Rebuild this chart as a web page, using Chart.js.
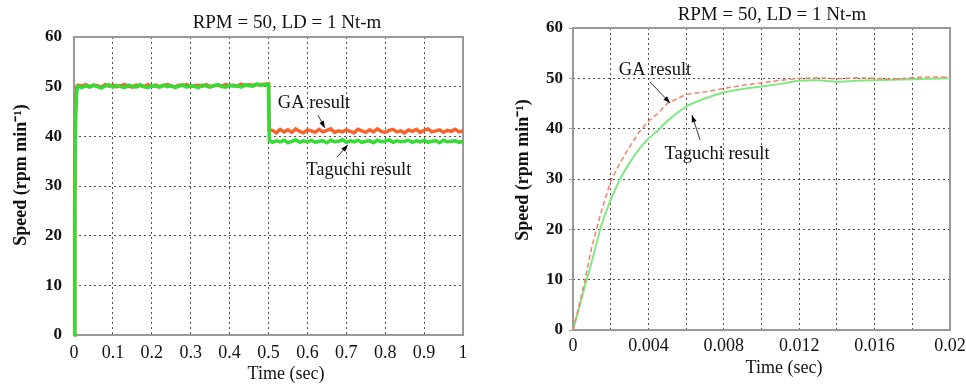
<!DOCTYPE html>
<html>
<head>
<meta charset="utf-8">
<script src="https://cdn.jsdelivr.net/npm/chart.js@4.4.1/dist/chart.umd.min.js"></script>
<style>
  html, body { margin: 0; padding: 0; background: #fff; }
  .panel { position: absolute; top: 0; }
</style>
</head>
<body>
<div class="panel" style="left:0;width:490px;height:385px"><canvas id="loadStep" width="490" height="385"></canvas></div>
<div class="panel" style="left:490px;width:476px;height:385px"><canvas id="startUp" width="476" height="385"></canvas></div>
<script>
// ---- Load-step response, 0 .. 1 s ----
const loadTime = [
  0, 0.002, 0.004, 0.007, 0.01,
  0.02, 0.03, 0.04, 0.05, 0.06, 0.07, 0.08, 0.09, 0.10, 0.11,
  0.12, 0.13, 0.14, 0.15, 0.16, 0.17, 0.18, 0.19, 0.20, 0.21,
  0.22, 0.23, 0.24, 0.25, 0.26, 0.27, 0.28, 0.29, 0.30, 0.31,
  0.32, 0.33, 0.34, 0.35, 0.36, 0.37, 0.38, 0.39, 0.40, 0.41,
  0.42, 0.43, 0.44, 0.45, 0.46, 0.47, 0.48, 0.49,
  0.50, 0.502,
  0.51, 0.52, 0.53, 0.54, 0.55, 0.56, 0.57, 0.58, 0.59, 0.60,
  0.61, 0.62, 0.63, 0.64, 0.65, 0.66, 0.67, 0.68, 0.69, 0.70,
  0.71, 0.72, 0.73, 0.74, 0.75, 0.76, 0.77, 0.78, 0.79, 0.80,
  0.81, 0.82, 0.83, 0.84, 0.85, 0.86, 0.87, 0.88, 0.89, 0.90,
  0.91, 0.92, 0.93, 0.94, 0.95, 0.96, 0.97, 0.98, 0.99, 1.00
];
const loadGA = [
  0, 27, 46, 50, 50.3,
  50.1, 50.4, 50.0, 50.3, 50.2, 49.9, 50.4, 50.1, 50.3, 50.0,
  50.2, 50.4, 50.1, 49.9, 50.3, 50.2, 50.0, 50.4, 50.1, 50.3,
  50.0, 50.2, 50.4, 50.1, 49.9, 50.3, 50.2, 50.4, 50.0, 50.2,
  50.3, 50.1, 50.4, 50.0, 50.2, 50.3, 50.1, 50.4, 50.2, 50.3,
  50.1, 50.5, 50.2, 50.4, 50.3, 50.5, 50.4, 50.5,
  50.6, 41.3,
  41.2, 40.7, 41.4, 40.9, 41.3, 40.8, 41.5, 41.0, 40.7, 41.3,
  41.1, 40.8, 41.4, 40.9, 41.2, 41.5, 40.8, 41.1, 40.9, 41.3,
  41.0, 40.7, 41.4, 41.1, 40.8, 41.3, 40.9, 41.5, 41.0, 40.8,
  41.2, 41.4, 40.9, 41.1, 40.7, 41.3, 41.0, 41.4, 40.8, 41.2,
  41.5, 40.9, 41.1, 41.3, 40.8, 41.2, 41.0, 41.4, 40.9, 41.1
];
const loadTaguchi = [
  0, 25, 44, 49.2, 50.1,
  49.8, 50.2, 49.9, 50.3, 50.0, 49.7, 50.1, 50.4, 49.9, 50.2,
  50.0, 49.8, 50.3, 50.1, 49.9, 50.4, 50.0, 49.8, 50.2, 50.1,
  49.9, 50.3, 50.0, 50.2, 49.8, 50.1, 50.4, 49.9, 50.2, 50.0,
  49.8, 50.3, 50.1, 49.9, 50.2, 50.4, 50.0, 49.9, 50.3, 50.1,
  50.2, 49.9, 50.4, 50.2, 50.1, 50.5, 50.3, 50.4,
  50.5, 39.2,
  38.8, 39.1, 38.9, 39.2, 38.7, 39.0, 39.3, 38.8, 39.1, 38.9,
  39.2, 38.8, 39.0, 39.1, 38.7, 39.2, 38.9, 39.0, 39.3, 38.8,
  39.1, 38.9, 39.2, 38.8, 39.0, 39.1, 38.7, 39.2, 38.9, 39.0,
  39.3, 38.8, 39.1, 38.9, 39.0, 39.2, 38.8, 39.1, 38.9, 39.2,
  38.8, 39.0, 39.1, 38.7, 39.2, 38.9, 39.0, 39.1, 38.8, 39.0
];
const loadTickLabels = ['0', '0.1', '0.2', '0.3', '0.4', '0.5', '0.6', '0.7', '0.8', '0.9', '1'];

// ---- Start-up response, 0 .. 0.02 s ----
const startTime = [
  0, 0.0003, 0.0006, 0.001, 0.0015, 0.002, 0.0025, 0.003, 0.0035, 0.004,
  0.0045, 0.005, 0.006, 0.007, 0.008, 0.009, 0.010, 0.011, 0.012, 0.013,
  0.014, 0.015, 0.016, 0.017, 0.018, 0.019, 0.020
];
const startGA = [
  0, 4.5, 9.3, 16.5, 23.5, 29.6, 33.2, 36.4, 39.3, 41.5,
  43.0, 45.0, 46.8, 47.3, 48.0, 48.6, 49.1, 49.6, 50.0, 50.1,
  49.9, 50.1, 50.0, 49.8, 50.1, 50.3, 50.2
];
const startTaguchi = [
  0, 4.0, 8.3, 13.6, 20.7, 25.8, 30.0, 33.2, 35.9, 38.0,
  39.6, 41.5, 44.4, 46.0, 47.2, 47.9, 48.4, 48.9, 49.5, 49.6,
  49.3, 49.5, 49.6, 49.7, 49.8, 49.9, 50.0
];
const startTickLabels = ['0', '0.004', '0.008', '0.012', '0.016', '0.02'];

const speedTicks = [0, 10, 20, 30, 40, 50, 60];

const TITLE = 'RPM = 50, LD = 1 Nt-m';
const X_TITLE = 'Time (sec)';
const Y_TITLE = 'Speed (rpm min\u207B\u00B9)';
const SERIF = '"Liberation Serif", "Times New Roman", serif';

function pairs(xs, ys) { return xs.map((x, i) => ({ x, y: ys[i] })); }

// Frame around the plot area, drawn beneath the traces
const plotFrame = {
  id: 'plotFrame',
  beforeDatasetsDraw(chart) {
    const { ctx, chartArea: a } = chart;
    ctx.save();
    ctx.strokeStyle = '#999';
    ctx.lineWidth = 2;
    ctx.strokeRect(a.left, a.top, a.right - a.left, a.bottom - a.top);
    ctx.restore();
  }
};

// Titles and callout labels with arrows
const panelText = {
  id: 'panelText',
  afterDraw(chart, args, o) {
    const { ctx, scales } = chart;
    const sx = scales.x, sy = scales.y;
    ctx.save();
    ctx.fillStyle = '#111';
    ctx.textAlign = 'center';
    ctx.textBaseline = 'middle';
    ctx.font = '19px ' + SERIF;
    ctx.fillText(TITLE, o.titleX, o.titleY);
    ctx.font = '18px ' + SERIF;
    ctx.fillText(X_TITLE, o.xTitleX, o.xTitleY);
    ctx.save();
    ctx.translate(o.yTitleX, o.yTitleY);
    ctx.rotate(-Math.PI / 2);
    ctx.font = 'bold 18px ' + SERIF;
    ctx.fillText(Y_TITLE, 0, 0);
    ctx.restore();

    ctx.font = '18.5px ' + SERIF;
    for (const c of o.callouts) {
      ctx.fillStyle = '#111';
      ctx.fillText(c.text, sx.getPixelForValue(c.at[0]), sy.getPixelForValue(c.at[1]));
      const x0 = sx.getPixelForValue(c.from[0]), y0 = sy.getPixelForValue(c.from[1]);
      const x1 = sx.getPixelForValue(c.to[0]), y1 = sy.getPixelForValue(c.to[1]);
      ctx.strokeStyle = '#333';
      ctx.lineWidth = 1;
      ctx.beginPath(); ctx.moveTo(x0, y0); ctx.lineTo(x1, y1); ctx.stroke();
      const ang = Math.atan2(y1 - y0, x1 - x0);
      ctx.fillStyle = '#000';
      ctx.beginPath();
      ctx.moveTo(x1, y1);
      ctx.lineTo(x1 - 7 * Math.cos(ang) + 2.5 * Math.sin(ang), y1 - 7 * Math.sin(ang) - 2.5 * Math.cos(ang));
      ctx.lineTo(x1 - 7 * Math.cos(ang) - 2.5 * Math.sin(ang), y1 - 7 * Math.sin(ang) + 2.5 * Math.cos(ang));
      ctx.closePath(); ctx.fill();
    }
    ctx.restore();
  }
};

const gridStyle = {
  color: 'rgba(60,60,60,0.9)',
  lineWidth: 1
};

function baseOptions(cfg) {
  return {
    responsive: false,
    animation: false,
    devicePixelRatio: 1,
    layout: { padding: cfg.padding },
    plugins: {
      legend: { display: false },
      tooltip: { enabled: false },
      title: { display: false },
      panelText: cfg.text
    },
    scales: {
      x: {
        type: 'linear',
        min: cfg.xMin, max: cfg.xMax,
        border: { display: false, dash: [2, 3] },
        grid: { ...gridStyle, drawTicks: false },
        ticks: {
          stepSize: cfg.xStep,
          padding: cfg.xTickPad,
          color: '#111',
          maxRotation: 0,
          autoSkip: false,
          font: { family: SERIF, size: 18 },
          callback: cfg.xLabel
        },
        afterFit(s) { s.height = cfg.xAxisHeight; s.paddingLeft = 0; s.paddingRight = 0; }
      },
      y: {
        min: 0, max: 60,
        border: { display: false, dash: [2, 3] },
        grid: { ...gridStyle, drawTicks: cfg.yTicks, tickLength: 4, tickColor: '#999', tickBorderDash: [] },
        ticks: {
          stepSize: 10,
          padding: cfg.yTickPad,
          color: '#111',
          font: { family: SERIF, size: 17, weight: 'bold' },
          callback: (v, i) => String(speedTicks[i])
        },
        afterFit(s) { s.width = cfg.yAxisWidth; s.paddingTop = 0; s.paddingBottom = 0; }
      }
    }
  };
}

// Left panel: speed under a load step at 0.5 s
new Chart(document.getElementById('loadStep'), {
  type: 'line',
  data: {
    datasets: [
      {
        label: 'Taguchi result',
        data: pairs(loadTime, loadTaguchi),
        borderColor: 'rgb(52,220,52)',
        borderWidth: 3.5,
        pointRadius: 0, tension: 0, clip: false, order: 0
      },
      {
        label: 'GA result',
        data: pairs(loadTime, loadGA),
        borderColor: 'rgb(244,100,44)',
        borderWidth: 3.5,
        pointRadius: 0, tension: 0, clip: false, order: 1
      }
    ]
  },
  options: baseOptions({
    padding: { left: 0, right: 27, top: 37, bottom: 0 },
    xMin: 0, xMax: 1, xStep: 0.1, xTickPad: 7,
    xLabel: (v, i) => loadTickLabels[i],
    xAxisHeight: 50, yAxisWidth: 74, yTickPad: 12, yTicks: false,
    text: {
      titleX: 287, titleY: 23,
      xTitleX: 286, xTitleY: 374,
      yTitleX: 21, yTitleY: 175,
      callouts: [
        { text: 'GA result', at: [0.617, 46.7], from: [0.627, 44.3], to: [0.645, 41.7] },
        { text: 'Taguchi result', at: [0.732, 33.2], from: [0.676, 35.8], to: [0.704, 38.3] }
      ]
    }
  }),
  plugins: [plotFrame, panelText]
});

// Right panel: start-up transient
new Chart(document.getElementById('startUp'), {
  type: 'line',
  data: {
    datasets: [
      {
        label: 'GA result',
        data: pairs(startTime, startGA),
        borderColor: 'rgb(242,128,108)',
        borderWidth: 1.5,
        borderDash: [5, 3],
        pointRadius: 0, tension: 0, clip: false, order: 0
      },
      {
        label: 'Taguchi result',
        data: pairs(startTime, startTaguchi),
        borderColor: 'rgb(130,232,130)',
        borderWidth: 2,
        pointRadius: 0, tension: 0.2, clip: false, order: 1
      }
    ]
  },
  options: baseOptions({
    padding: { left: 0, right: 16, top: 28, bottom: 0 },
    xMin: 0, xMax: 0.02, xStep: 0.002, xTickPad: 5,
    xLabel: (v, i) => (i % 2 === 0 ? startTickLabels[i / 2] : ''),
    xAxisHeight: 55, yAxisWidth: 83, yTickPad: 6, yTicks: true,
    text: {
      titleX: 282, titleY: 15,
      xTitleX: 294, xTitleY: 368,
      yTitleX: 33, yTitleY: 170,
      callouts: [
        { text: 'GA result', at: [0.00435, 51.7], from: [0.00408, 49.3], to: [0.00515, 45.1] },
        { text: 'Taguchi result', at: [0.00764, 35.0], from: [0.00674, 37.8], to: [0.00631, 42.7] }
      ]
    }
  }),
  plugins: [plotFrame, panelText]
});
</script>
</body>
</html>
